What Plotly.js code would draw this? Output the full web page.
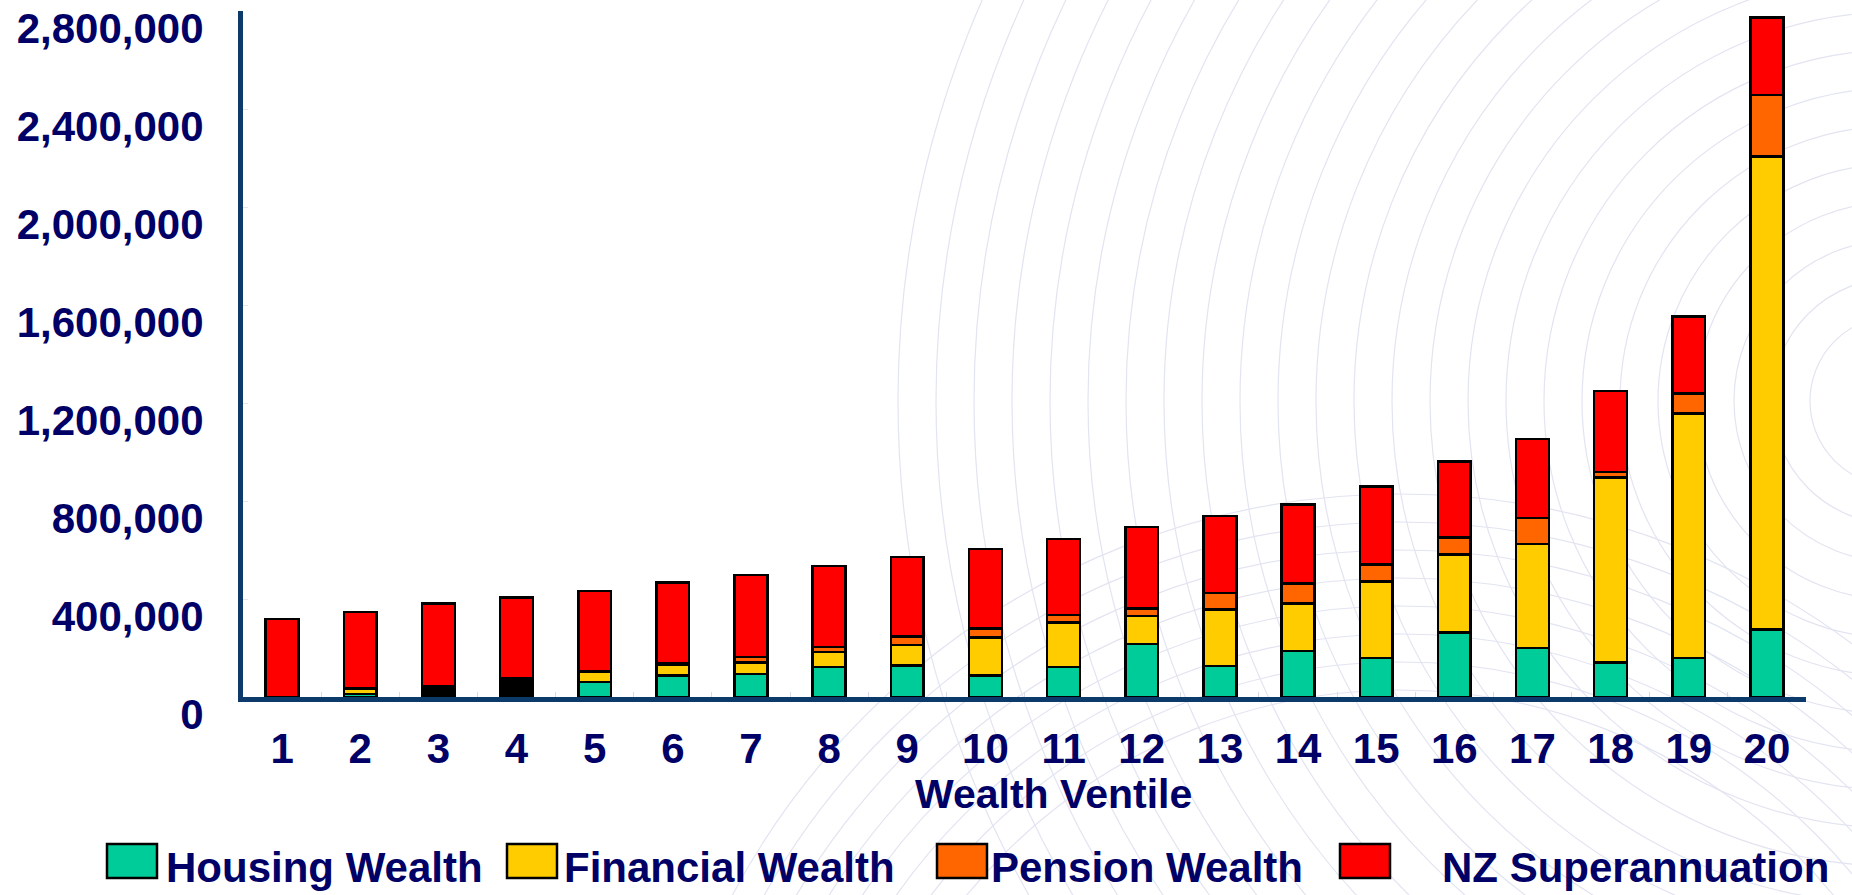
<!DOCTYPE html>
<html>
<head>
<meta charset="utf-8">
<script src="https://cdn.plot.ly/plotly-3.0.1.min.js"></script>
<style>
  html, body { margin: 0; padding: 0; background: #fff; }
  #chart { width: 1852px; height: 895px; }
</style>
</head>
<body>
<div id="chart"></div>
<script>
// Wealth ventiles 1..20
var ventiles = ['1', '2', '3', '4', '5', '6', '7', '8', '9', '10',
                '11', '12', '13', '14', '15', '16', '17', '18', '19', '20'];

// Values (dollars)
var housingWealth   = [0, 12000, 8000, 8000, 61000, 88000, 94000, 123000, 129000, 88000,
                       123000, 216000, 127000, 187000, 160000, 264000, 201000, 140000, 159000, 275000];
var financialWealth = [0, 20000, 0, 0, 42000, 45000, 47000, 60000, 83000, 155000,
                       181000, 115000, 231000, 195000, 312000, 318000, 424000, 756000, 998000, 1931000];
var pensionWealth   = [0, 4000, 0, 0, 3000, 4000, 23000, 22000, 35000, 37000,
                       30000, 30000, 67000, 81000, 68000, 70000, 105000, 22000, 82000, 251000];
var otherWealth     = [0, 0, 34000, 68000, 0, 0, 0, 0, 0, 0,
                       0, 0, 0, 0, 0, 0, 0, 0, 0, 0];
var nzSuper         = [318000, 311000, 340000, 330000, 326000, 330000, 333000, 329000, 324000, 324000,
                       311000, 333000, 313000, 322000, 319000, 309000, 323000, 331000, 314000, 317000];

var yTicks = [0, 400000, 800000, 1200000, 1600000, 2000000, 2400000, 2800000];

var seriesNames  = ['Housing Wealth', 'Financial Wealth', 'Pension Wealth', 'NZ Superannuation'];
var seriesColors = ['#00cc99', '#ffcc00', '#ff6600', '#ff0000'];

var navy = '#000066';
var fontFamily = '"Liberation Sans", Arial, Helvetica, sans-serif';

// plot area in pixels
var W = 1852, H = 895;
var mL = 243, mR = 46, mT = 11, mB = 198;
var plotW = W - mL - mR, plotH = H - mT - mB;
function px2x(p) { return (p - mL) / plotW; }
function py2y(p) { return (H - mB - p) / plotH; }

function barTrace(name, values, color) {
    return {
        type: 'bar',
        name: name,
        x: ventiles,
        y: values,
        width: 0.42,
        marker: { color: color, line: { color: '#000000', width: 2.5 } },
        showlegend: false,
        hoverinfo: 'name+y'
    };
}

var data = [
    barTrace(seriesNames[0], housingWealth, seriesColors[0]),
    barTrace(seriesNames[1], financialWealth, seriesColors[1]),
    barTrace(seriesNames[2], pensionWealth, seriesColors[2]),
    barTrace('Other', otherWealth, '#000000'),
    barTrace(seriesNames[3], nzSuper, seriesColors[3])
];

// faint background rings
var shapes = [];
function ring(cx, cy, r) {
    shapes.push({
        type: 'circle', xref: 'paper', yref: 'paper', layer: 'below',
        x0: px2x(cx - r), x1: px2x(cx + r), y0: py2y(cy + r), y1: py2y(cy - r),
        line: { color: '#e2e4f1', width: 1.2 }
    });
}
for (var r = 85; r < 1000; r += 38) ring(1895, 401, r);
for (var r2 = 560; r2 < 780; r2 += 28) ring(1400, 1250, r2);

// legend drawn by hand so the swatches can be large
var legendSwatchX = [107, 507, 937, 1340];
var legendTextX = [164, 562, 989, 1440];
var annotations = [];
for (var i = 0; i < seriesNames.length; i++) {
    shapes.push({
        type: 'rect', xref: 'paper', yref: 'paper',
        x0: px2x(legendSwatchX[i]), x1: px2x(legendSwatchX[i] + 50),
        y0: py2y(878), y1: py2y(844),
        fillcolor: seriesColors[i],
        line: { color: '#000000', width: 2.5 }
    });
    annotations.push({
        xref: 'paper', yref: 'paper',
        x: px2x(legendTextX[i]), y: py2y(867),
        xanchor: 'left', yanchor: 'middle',
        text: seriesNames[i], showarrow: false,
        font: { family: fontFamily, size: 42, color: navy, weight: 'bold' }
    });
}

annotations.push({
    xref: 'paper', yref: 'paper',
    x: px2x(1053), y: py2y(794),
    xanchor: 'center', yanchor: 'middle',
    text: 'Wealth Ventile', showarrow: false,
    font: { family: fontFamily, size: 41, color: navy, weight: 'bold' }
});

var layout = {
    width: W,
    height: H,
    margin: { l: mL, r: mR, t: mT, b: mB, pad: 0 },
    barmode: 'stack',
    paper_bgcolor: '#ffffff',
    plot_bgcolor: 'rgba(0,0,0,0)',
    showlegend: false,
    font: { family: fontFamily, color: navy },
    xaxis: {
        type: 'category',
        range: [-0.5, 19.5],
        showgrid: false,
        zeroline: false,
        showline: true,
        linecolor: '#0b3a6b',
        linewidth: 5,
        ticks: 'inside',
        tickson: 'boundaries',
        ticklen: 5,
        tickcolor: '#d6dbe8',
        ticklabelstandoff: 11,
        tickfont: { family: fontFamily, size: 42, color: navy, weight: 'bold' }
    },
    yaxis: {
        range: [0, 2800000],
        tickvals: yTicks,
        tickformat: ',d',
        showgrid: false,
        zeroline: false,
        showline: true,
        linecolor: '#0b3a6b',
        linewidth: 5,
        ticks: 'inside',
        ticklen: 5,
        tickcolor: '#e3e6f0',
        ticklabelstandoff: 26,
        ticklabelshift: 17,
        tickfont: { family: fontFamily, size: 42, color: navy, weight: 'bold' }
    },
    shapes: shapes,
    annotations: annotations
};

Plotly.newPlot('chart', data, layout, { displayModeBar: false, staticPlot: true });
</script>
</body>
</html>
